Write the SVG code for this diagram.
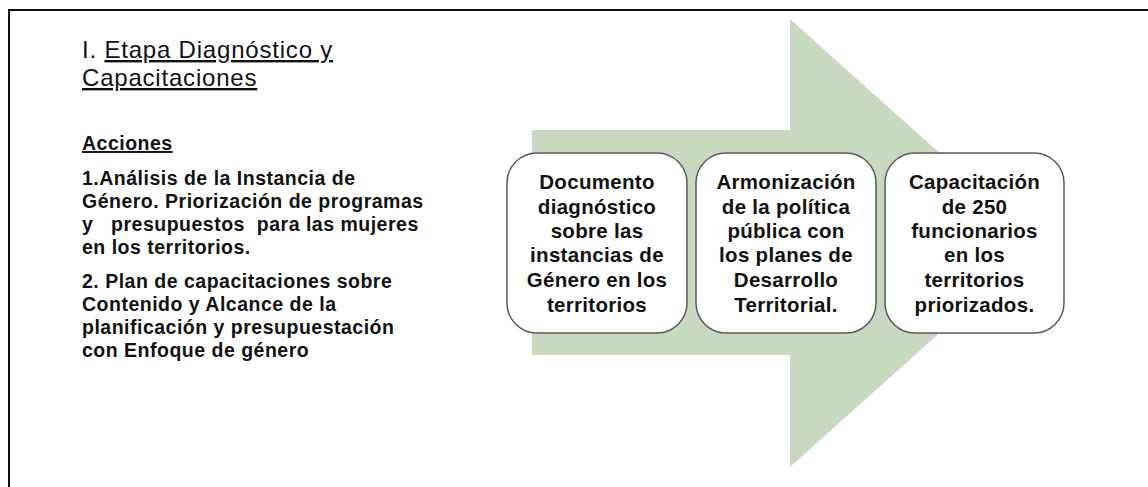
<svg xmlns="http://www.w3.org/2000/svg" width="1148" height="487" viewBox="0 0 1148 487">
<style>
.frame{fill:none;stroke:#111;stroke-width:2}
.arrow{fill:#c9d9c1}
.box{fill:#fff;stroke:#5a5a5a;stroke-width:1.5}
.bt{font-family:"Liberation Sans",Arial,sans-serif;font-weight:bold;font-size:20.5px;letter-spacing:0.3px;fill:#111;text-anchor:middle}
.title{font-family:"Liberation Sans",Arial,sans-serif;font-size:24px;letter-spacing:0.8px;fill:#111}
.lt{font-family:"Liberation Sans",Arial,sans-serif;font-weight:bold;font-size:19.5px;letter-spacing:0.5px;fill:#111;white-space:pre}
.u{text-decoration:underline}
</style>
<rect width="1148" height="487" fill="#fff"/>
<path class="frame" d="M9,487 V10 H1148"/>
<g id="left-text">
<text class="title" x="82" y="58">I. <tspan class="u">Etapa Diagnóstico y</tspan></text>
<text class="title" x="82" y="86"><tspan class="u">Capacitaciones</tspan></text>
<text class="lt" x="82" y="150"><tspan class="u">Acciones</tspan></text>
<text class="lt" x="82" y="185">1.Análisis de la Instancia de</text>
<text class="lt" x="82" y="208">Género. Priorización de programas</text>
<text class="lt" x="82" y="231" xml:space="preserve">y   presupuestos  para las mujeres</text>
<text class="lt" x="82" y="254">en los territorios.</text>
<text class="lt" x="82" y="288">2. Plan de capacitaciones sobre</text>
<text class="lt" x="82" y="311">Contenido y Alcance de la</text>
<text class="lt" x="82" y="334">planificación y presupuestación</text>
<text class="lt" x="82" y="357">con Enfoque de género</text>
</g>
<g id="arrow">
<path class="arrow" d="M532,130 H790 V19 L1040,243 L790,467 V355 H532 Z"/>
</g>
<g id="box1">
<rect class="box" x="507" y="153" width="180" height="180" rx="30"/>
<text class="bt" x="597" y="189">Documento</text>
<text class="bt" x="597" y="214">diagnóstico</text>
<text class="bt" x="597" y="238">sobre las</text>
<text class="bt" x="597" y="262">instancias de</text>
<text class="bt" x="597" y="287">Género en los</text>
<text class="bt" x="597" y="312">territorios</text>
</g>
<g id="box2">
<rect class="box" x="696" y="153" width="180" height="180" rx="30"/>
<text class="bt" x="786" y="189">Armonización</text>
<text class="bt" x="786" y="214">de la política</text>
<text class="bt" x="786" y="238">pública con</text>
<text class="bt" x="786" y="262">los planes de</text>
<text class="bt" x="786" y="287">Desarrollo</text>
<text class="bt" x="786" y="312">Territorial.</text>
</g>
<g id="box3">
<rect class="box" x="885" y="153" width="179" height="180" rx="30"/>
<text class="bt" x="974.5" y="189">Capacitación</text>
<text class="bt" x="974.5" y="214">de 250</text>
<text class="bt" x="974.5" y="238">funcionarios</text>
<text class="bt" x="974.5" y="262">en los</text>
<text class="bt" x="974.5" y="287">territorios</text>
<text class="bt" x="974.5" y="312">priorizados.</text>
</g>
<g id="connectors"></g>
</svg>
